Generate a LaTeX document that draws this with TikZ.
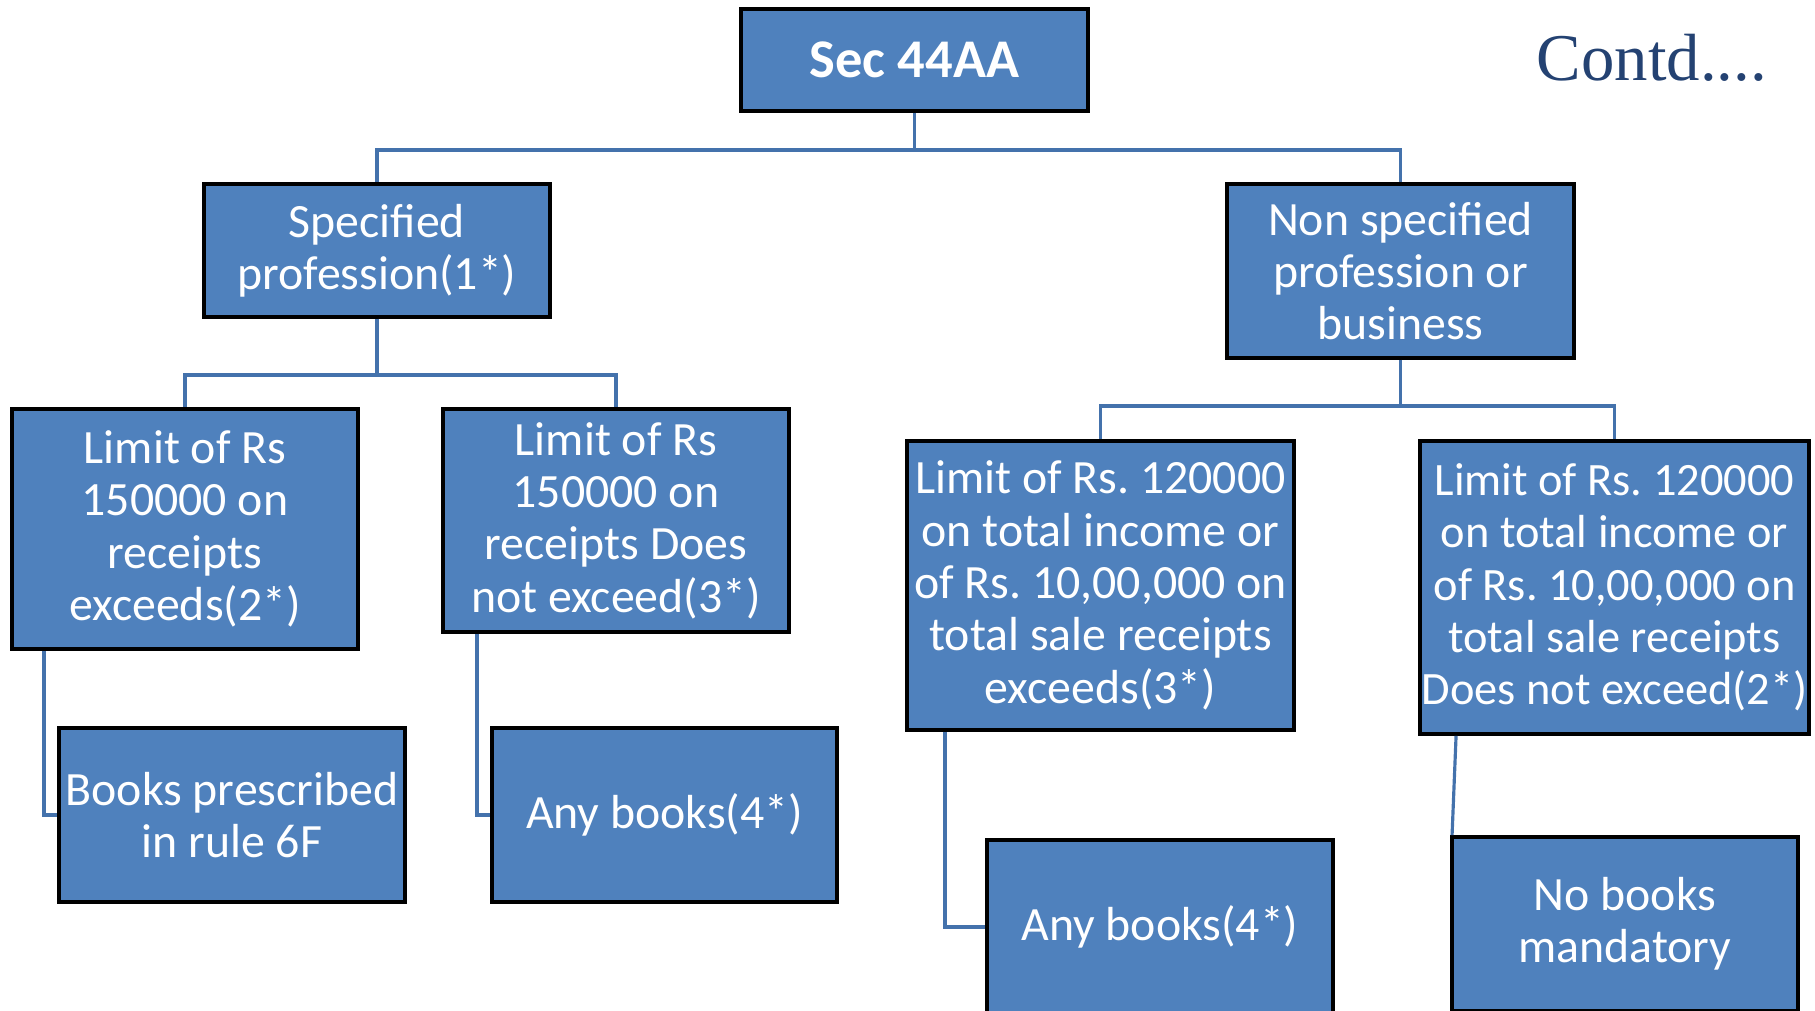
\documentclass[tikz,border=0pt]{standalone}
\usepackage{fontspec}
\setmainfont{Carlito}
\newfontfamily\contdfont{Liberation Serif}
\usepackage{tikz}
\usetikzlibrary{shapes,arrows}
\frenchspacing
\definecolor{boxblue}{RGB}{79,129,189}
\definecolor{linkblue}{RGB}{68,114,172}
\definecolor{contdblue}{RGB}{36,66,114}
\tikzset{
  box/.style={rectangle, draw=black, line width=1.1pt, fill=boxblue, text=white,
    align=center, inner sep=0pt, font=\fontsize{13.6}{14.9}\selectfont},
  link/.style={draw=linkblue, line width=0.9pt}
}
\newcommand{\flowbox}[5] {\node at (#1) (#2) [box, minimum width=#3cm, minimum height=#4cm] {#5};}
\newcommand{\treelink}[3] {\draw [link] (#1.south) -- ++(0,#3) -| (#2.north);}
\newcommand{\sidelink}[3] {\draw [link] ([xshift=#3cm]#1.south west) |- (#2.west);}

\begin{document}
\begin{tikzpicture}[x=1cm,y=-1cm]
\useasboundingbox (0,0) rectangle (18.15,10.11);
\clip (0,0) rectangle (18.15,10.11);

\node at (9.145,0.60) (sec) [box, minimum width=3.47cm, minimum height=1.02cm,
  font=\fontsize{15.5}{18}\selectfont\bfseries] {Sec 44AA};
\node at (16.52,0.58) (contd) [text=contdblue, font=\fontsize{19}{22}\contdfont] {Contd....};

\flowbox {3.77,2.505} {spec} {3.46} {1.33} {Specified\\profession(1*)};
\flowbox {14.005,2.71} {nonspec} {3.47} {1.74} {Non specified\\profession or\\business};

\flowbox {1.85,5.29} {limexc} {3.46} {2.40} {Limit of Rs\\150000 on\\receipts\\exceeds(2*)};
\flowbox {6.16,5.205} {limnot} {3.46} {2.23} {Limit of Rs\\150000 on\\receipts Does\\not exceed(3*)};
\flowbox {11.005,5.855} {incexc} {3.87} {2.89} {Limit of Rs. 120000\\on total income or\\of Rs. 10,00,000 on\\total sale receipts\\exceeds(3*)};
\node at (16.145,5.875) (incnot) [box, minimum width=3.89cm, minimum height=2.93cm,
  font=\fontsize{13.2}{14.9}\selectfont] {Limit of Rs. 120000\\on total income or\\of Rs. 10,00,000 on\\total sale receipts\\Does not exceed(2*)};

\flowbox {2.32,8.15} {rule} {3.46} {1.74} {Books prescribed\\in rule 6F};
\flowbox {6.645,8.15} {anyl} {3.45} {1.74} {Any books(4*)};
\flowbox {11.60,9.27} {anyr} {3.46} {1.74} {Any books(4*)};
\flowbox {16.25,9.24} {nobooks} {3.46} {1.74} {No books\\mandatory};

\treelink{sec}{spec}{0.37};
\treelink{sec}{nonspec}{0.37};
\treelink{spec}{limexc}{0.56};
\treelink{spec}{limnot}{0.56};
\treelink{nonspec}{incexc}{0.46};
\treelink{nonspec}{incnot}{0.46};

\sidelink{limexc}{rule}{0.34};
\sidelink{limnot}{anyl}{0.36};
\sidelink{incexc}{anyr}{0.40};
\draw [link] ([xshift=0.38cm]incnot.south west) -- ([xshift=0.02cm]nobooks.north west);

\end{tikzpicture}
\end{document}
